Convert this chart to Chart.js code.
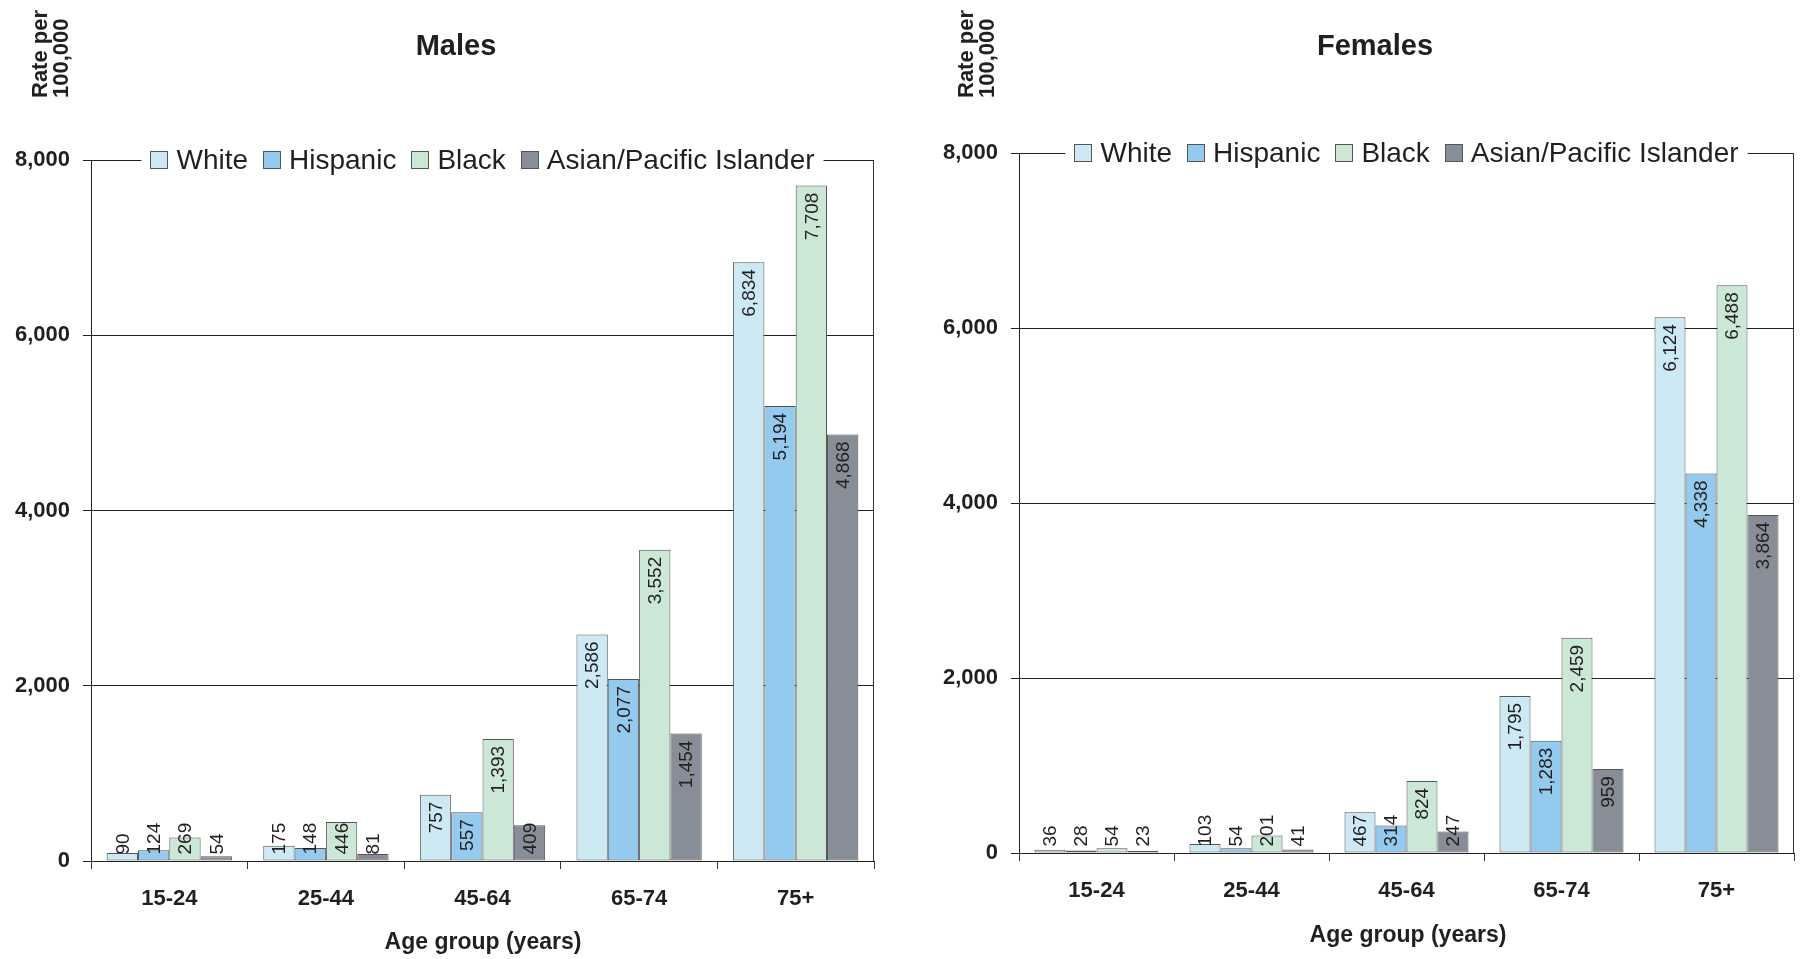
<!DOCTYPE html>
<html>
<head>
<meta charset="utf-8">
<script src="https://cdn.jsdelivr.net/npm/chart.js@4.4.1/dist/chart.umd.min.js"></script>
<style>
    body { margin: 0; background: #fff; }
    #wrap { position: relative; width: 1802px; height: 959px; font-family: "Liberation Sans", Arial, Helvetica, sans-serif; color: #231f20; }
    canvas { position: absolute; top: 0; }
    .title { position: absolute; width: 300px; text-align: center; font-weight: bold; font-size: 29px; line-height: 34px; top: 28px; }
    .xlabel { position: absolute; width: 400px; text-align: center; font-weight: bold; font-size: 23px; line-height: 28px; }
    .ylabel { position: absolute; top: 98px; transform: rotate(-90deg); transform-origin: 0 0; white-space: nowrap;
              font-weight: bold; font-size: 22px; line-height: 21px; }
</style>
</head>
<body>
<div id="wrap">
    <canvas id="malesChart" width="901" height="959" style="left:0"></canvas>
    <canvas id="femalesChart" width="901" height="959" style="left:901px"></canvas>

    <div class="title" style="left:306px">Males</div>
    <div class="title" style="left:1225px">Females</div>

    <div class="ylabel" style="left:29px">Rate per<br>100,000</div>
    <div class="ylabel" style="left:955px">Rate per<br>100,000</div>

    <div class="xlabel" style="left:283px; top:927px">Age group (years)</div>
    <div class="xlabel" style="left:1208px; top:920px">Age group (years)</div>
</div>

<script>
// Age groups and series
const AGE_GROUPS = ['15-24', '25-44', '45-64', '65-74', '75+'];
const SERIES = ['White', 'Hispanic', 'Black', 'Asian/Pacific Islander'];
const Y_TICKS = [0, 2000, 4000, 6000, 8000];

// Rates per 100,000 - males
const MALE_WHITE    = [90, 175, 757, 2586, 6834];
const MALE_HISPANIC = [124, 148, 557, 2077, 5194];
const MALE_BLACK    = [269, 446, 1393, 3552, 7708];
const MALE_ASIAN    = [54, 81, 409, 1454, 4868];

// Rates per 100,000 - females
const FEMALE_WHITE    = [36, 103, 467, 1795, 6124];
const FEMALE_HISPANIC = [28, 54, 314, 1283, 4338];
const FEMALE_BLACK    = [54, 201, 824, 2459, 6488];
const FEMALE_ASIAN    = [23, 41, 247, 959, 3864];

const COLORS = ['#cde9f4', '#93caee', '#cbe7d5', '#878e97'];
const FONT = '"Liberation Sans", Arial, Helvetica, sans-serif';
const INK = '#231f20';

Chart.defaults.font.family = FONT;
Chart.defaults.color = INK;

// value labels written sideways at the top of every bar
const barLabels = {
    id: 'barLabels',
    afterDatasetsDraw(chart) {
        const ctx = chart.ctx;
        ctx.save();
        ctx.font = '19px ' + FONT;
        ctx.fillStyle = INK;
        ctx.textAlign = 'left';
        ctx.textBaseline = 'middle';
        chart.data.datasets.forEach((ds, i) => {
            chart.getDatasetMeta(i).data.forEach((bar, j) => {
                const txt = ds.data[j].toLocaleString('en-US');
                const w = ctx.measureText(txt).width;
                let bottom = bar.y + 7 + w;
                if (bottom > bar.base - 6) bottom = bar.base - 6;
                ctx.save();
                ctx.translate(bar.x, bottom);
                ctx.rotate(-Math.PI / 2);
                ctx.fillText(txt, 0, 1);
                ctx.restore();
            });
        });
        ctx.restore();
    }
};

// right frame line and the legend sitting on the top line
const frameLegend = {
    id: 'frameLegend',
    afterDraw(chart) {
        const ctx = chart.ctx;
        const a = chart.chartArea;
        ctx.save();
        ctx.strokeStyle = '#333';
        ctx.lineWidth = 1;
        ctx.beginPath();
        ctx.moveTo(Math.round(a.right) - 0.5, a.top);
        ctx.lineTo(Math.round(a.right) - 0.5, a.bottom);
        ctx.stroke();

        ctx.font = '28px ' + FONT;
        const box = 17, boxGap = 9, itemGap = 15;
        const items = chart.data.datasets.map(ds => ({
            label: ds.label, color: ds.backgroundColor,
            w: box + boxGap + ctx.measureText(ds.label).width
        }));
        const total = items.reduce((s, it) => s + it.w, 0) + itemGap * (items.length - 1);
        let x = (a.left + a.right) / 2 - total / 2;
        const y = Math.round(a.top);
        ctx.fillStyle = '#fff';
        ctx.fillRect(x - 9, y - 16, total + 18, 32);
        ctx.textBaseline = 'middle';
        items.forEach(it => {
            ctx.fillStyle = it.color;
            ctx.fillRect(Math.round(x) + 0.5, y - 8.5, box, box);
            ctx.strokeStyle = '#555';
            ctx.strokeRect(Math.round(x) + 0.5, y - 8.5, box, box);
            ctx.fillStyle = INK;
            ctx.fillText(it.label, x + box + boxGap, y + 1);
            x += it.w + itemGap;
        });
        ctx.restore();
    }
};

function makeChart(id, seriesData, geo) {
    const ctx = document.getElementById(id).getContext('2d');
    return new Chart(ctx, {
        type: 'bar',
        data: {
            labels: AGE_GROUPS,
            datasets: SERIES.map((name, i) => ({
                label: name,
                data: seriesData[i],
                backgroundColor: COLORS[i],
                borderColor: '#555',
                borderWidth: 1,
                borderSkipped: false,
                categoryPercentage: 0.8,
                barPercentage: 1.0
            }))
        },
        options: {
            responsive: false,
            animation: false,
            devicePixelRatio: 1,
            layout: { padding: { top: geo.top, right: geo.right, bottom: 0, left: 0 } },
            plugins: {
                legend: { display: false },
                title: { display: false },
                tooltip: { enabled: false }
            },
            scales: {
                x: {
                    grid: { display: true, drawOnChartArea: false, drawTicks: true, tickLength: 8, color: '#333', offset: true },
                    border: { display: true, color: '#222', width: 1 },
                    ticks: { font: { size: 22, weight: 'bold' }, color: INK, padding: 17, maxRotation: 0 },
                    afterFit: s => { s.height = geo.xHeight; }
                },
                y: {
                    min: 0,
                    max: 8000,
                    afterBuildTicks: s => { s.ticks = Y_TICKS.map(v => ({ value: v })); },
                    grid: { color: '#222', tickLength: 8, drawTicks: true },
                    border: { display: true, color: '#222', width: 1 },
                    ticks: {
                        font: { size: 22, weight: 'bold' }, color: INK, padding: 13,
                        callback: v => Number(v).toLocaleString('en-US')
                    },
                    afterFit: s => { s.width = geo.yWidth; }
                }
            }
        },
        plugins: [barLabels, frameLegend]
    });
}

document.addEventListener('DOMContentLoaded', () => {
    makeChart('malesChart',
        [MALE_WHITE, MALE_HISPANIC, MALE_BLACK, MALE_ASIAN],
        { top: 160, right: 27, xHeight: 98, yWidth: 91 });
    makeChart('femalesChart',
        [FEMALE_WHITE, FEMALE_HISPANIC, FEMALE_BLACK, FEMALE_ASIAN],
        { top: 153, right: 8, xHeight: 106, yWidth: 118 });
});
</script>
</body>
</html>
